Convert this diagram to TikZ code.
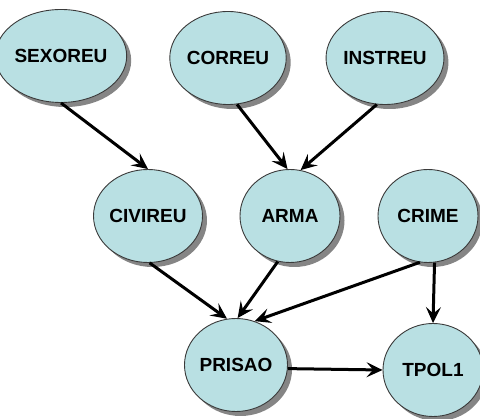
\documentclass[tikz,border=0pt]{standalone}
\usepackage{fontspec}
\setmainfont{Liberation Sans}
\usetikzlibrary{shapes.geometric,shadows,arrows.meta}
\definecolor{nodefill}{HTML}{B9E0E3}
\definecolor{nodeline}{HTML}{3A3A3A}
\definecolor{shadowgray}{HTML}{858585}
\tikzset{
  var/.style={ellipse, draw=nodeline, line width=0.9pt, fill=nodefill,
    minimum width=100pt, minimum height=93pt, inner sep=0pt,
    font=\fontsize{19}{21}\selectfont\bfseries,
    drop shadow={shadow xshift=4.5pt, shadow yshift=-4.5pt, fill=shadowgray, opacity=1}},
  link/.style={line width=3pt, -{Stealth[length=16pt,width=15pt,inset=6.5pt]}}
}
\begin{document}
\begin{tikzpicture}[x=1pt,y=-1pt]
  \useasboundingbox (0,0) rectangle (480,419);
  % upper row
  \node[var] (sexoreu) at (61,56)  {SEXOREU};
  \node[var] (correu)  at (228,58) {CORREU};
  \node[var] (instreu) at (385,58) {INSTREU};
  % middle row
  \node[var] (civireu) at (148,216) {CIVIREU};
  \node[var] (arma)    at (290,216) {ARMA};
  \node[var] (crime)   at (428,216) {CRIME};
  % lower row
  \node[var] (prisao)  at (236,365) {PRISAO};
  \node[var] (tpol1)   at (433,370) {TPOL1};
  % dependencies
  \draw[link] (sexoreu.south) -- (civireu.north);
  \draw[link] (correu.-79)    -- (arma.93);
  \draw[link] (instreu.-100)  -- (arma.77);
  \draw[link] (civireu.-88)   -- (prisao.101);
  \draw[link] (arma.-105)     -- (prisao.88);
  \draw[link] (crime.-100)    -- (prisao.67);
  \draw[link] (crime.-82)     -- (tpol1.north);
  \draw[link] (prisao.-4)     -- (tpol1.west);
\end{tikzpicture}
\end{document}
